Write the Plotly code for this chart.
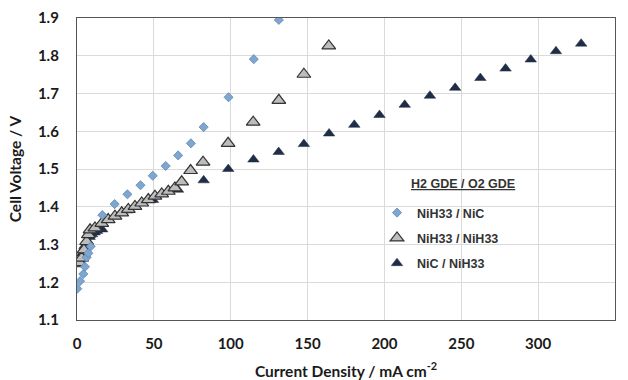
import plotly.graph_objects as go

# NiH33 / NiC (blue diamonds)
x_blue = [0.2, 2.0, 4.1, 5.2, 6.3, 7.4, 8.9, 16.5, 24.5, 32.8, 41.3, 49.3, 57.7, 65.8, 74.1, 82.4, 98.6, 115.0, 131.3]
y_blue = [1.183, 1.203, 1.222, 1.241, 1.266, 1.277, 1.295, 1.378, 1.407, 1.433, 1.457, 1.482, 1.508, 1.536, 1.568, 1.611, 1.690, 1.791, 1.895]

# NiH33 / NiH33 (grey triangles)
x_grey = [0.2, 1.8, 3.0, 4.5, 6.3, 7.4, 8.5, 11.7, 16.1, 20.3, 24.7, 29.1, 33.4, 37.7, 42.1, 46.4, 50.7, 55.1, 59.4, 63.7, 68.1, 73.9, 82.0, 98.3, 114.6, 131.3, 147.6, 163.8]
y_grey = [1.249, 1.252, 1.264, 1.286, 1.308, 1.326, 1.339, 1.344, 1.356, 1.366, 1.375, 1.384, 1.393, 1.401, 1.410, 1.419, 1.428, 1.434, 1.441, 1.450, 1.466, 1.496, 1.518, 1.568, 1.624, 1.682, 1.751, 1.826]

# NiC / NiH33 (dark triangles)
x_dark = [0.2, 1.6, 3.3, 4.9, 6.6, 8.2, 9.8, 11.5, 13.1, 16.4, 32.8, 49.4, 65.7, 82.4, 98.4, 114.8, 131.2, 147.6, 164.0, 180.4, 196.8, 213.2, 229.6, 246.0, 262.4, 278.8, 295.2, 311.6, 328.0]
y_dark = [1.250, 1.258, 1.276, 1.296, 1.310, 1.320, 1.327, 1.332, 1.336, 1.340, 1.390, 1.418, 1.445, 1.470, 1.500, 1.525, 1.545, 1.566, 1.594, 1.617, 1.643, 1.670, 1.694, 1.715, 1.741, 1.766, 1.790, 1.812, 1.832]

legend_title = "H2 GDE / O2 GDE"
names = ["NiH33 / NiC", "NiH33 / NiH33", "NiC / NiH33"]
x_title = "Current Density / mA cm<sup>-2</sup>"
y_title = "Cell Voltage / V"

fig = go.Figure()
# draw order: dark, grey, blue (legend order blue, grey, dark)
fig.add_trace(go.Scatter(
    x=x_dark, y=y_dark, mode="markers", name=names[2], legendgroup="c", legendrank=3,
    marker=dict(symbol="triangle-up", size=10, color="#1F2D47",
                line=dict(color="#1F2D47", width=0.5))))
fig.add_trace(go.Scatter(
    x=x_grey, y=y_grey, mode="markers", name=names[1], legendgroup="b", legendrank=2,
    marker=dict(symbol="triangle-up", size=12, color="#BDBDBD",
                line=dict(color="#333333", width=1.2))))
fig.add_trace(go.Scatter(
    x=x_blue, y=y_blue, mode="markers", name=names[0], legendgroup="a", legendrank=1,
    marker=dict(symbol="diamond", size=7, color="#7FA6CF",
                line=dict(color="#5B86B5", width=0.8))))

fig.add_annotation(
    x=(463 - 77) / 538, y=(320 - 184) / 302, xref="paper", yref="paper",
    text="<b><u>" + legend_title + "</u></b>", showarrow=False,
    xanchor="center", yanchor="middle",
    font=dict(family="Liberation Sans, Arial", size=12.5, color="#333333"))

fig.update_layout(
    width=628, height=380,
    margin=dict(l=77, r=13, t=18, b=60, autoexpand=False),
    paper_bgcolor="white", plot_bgcolor="white",
    showlegend=True,
    legend=dict(
        x=(377 - 77) / 538, y=(320 - 198) / 302, xanchor="left", yanchor="top",
        bgcolor="rgba(0,0,0,0)", borderwidth=0,
        traceorder="grouped", tracegroupgap=6,
        font=dict(family="Liberation Sans, Arial", size=12.5, color="#333333", weight="bold"),
        itemsizing="trace"),
    xaxis=dict(
        range=[0, 350], dtick=50, tick0=0, automargin=False,
        showgrid=True, gridcolor="#DADADA", gridwidth=1,
        showline=True, linecolor="#555555", linewidth=1.3, mirror=True,
        zeroline=False, ticks="", ticklabelstandoff=10,
        tickfont=dict(family="Lato", size=15, color="#1A1A1A", weight="bold"),
        title=dict(text="<b>" + x_title + "</b>", standoff=28,
                   font=dict(family="Lato", size=15.5, color="#1A1A1A"))),
    yaxis=dict(
        range=[1.1, 1.9], dtick=0.1, tick0=1.1, tickformat=".1f", automargin=False,
        showgrid=True, gridcolor="#DADADA", gridwidth=1,
        showline=True, linecolor="#555555", linewidth=1.3, mirror=True,
        zeroline=False, ticks="", ticklabelstandoff=14,
        tickfont=dict(family="Lato", size=15, color="#1A1A1A", weight="bold"),
        title=dict(text="<b>" + y_title + "</b>", standoff=12,
                   font=dict(family="Lato", size=15.5, color="#1A1A1A"))),
)

fig.write_html("out.html")
